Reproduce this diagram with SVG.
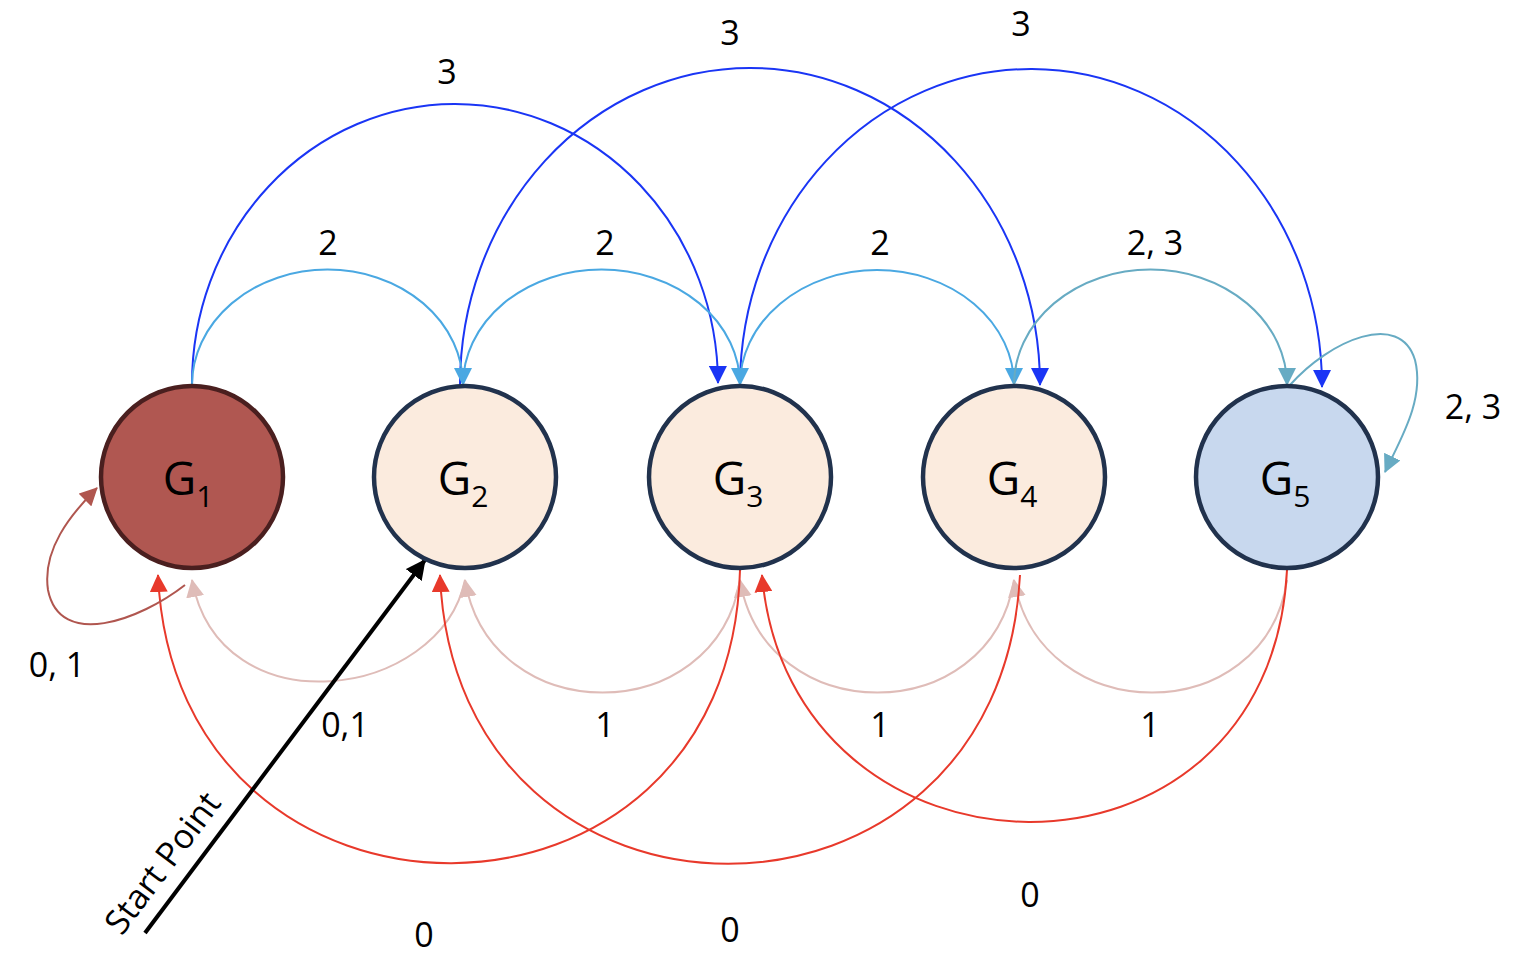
<svg xmlns="http://www.w3.org/2000/svg" width="1530" height="960" viewBox="0 0 1530 960">
<style>
.n{stroke:#21324d;stroke-width:4.5}
.t{font-family:"Open Sans","Liberation Sans",sans-serif;font-size:34px;fill:#000;text-anchor:middle}
.g{font-family:"Open Sans","Liberation Sans",sans-serif;font-size:46px;fill:#000;text-anchor:middle}
.e{fill:none;stroke-width:2}
</style>
<defs>
<marker id="mb" markerUnits="userSpaceOnUse" markerWidth="18" markerHeight="18" viewBox="0 0 18 18" refX="17" refY="9" orient="auto"><path d="M0,0L18,9L0,18z" fill="#1a35f5"/></marker>
<marker id="ml" markerUnits="userSpaceOnUse" markerWidth="18" markerHeight="18" viewBox="0 0 18 18" refX="17" refY="9" orient="auto"><path d="M0,0L18,9L0,18z" fill="#4aa8e2"/></marker>
<marker id="mt" markerUnits="userSpaceOnUse" markerWidth="18" markerHeight="18" viewBox="0 0 18 18" refX="17" refY="9" orient="auto"><path d="M0,0L18,9L0,18z" fill="#67abc3"/></marker>
<marker id="mp" markerUnits="userSpaceOnUse" markerWidth="18" markerHeight="18" viewBox="0 0 18 18" refX="17" refY="9" orient="auto"><path d="M0,0L18,9L0,18z" fill="#dfbcb8"/></marker>
<marker id="mr" markerUnits="userSpaceOnUse" markerWidth="18" markerHeight="18" viewBox="0 0 18 18" refX="17" refY="9" orient="auto"><path d="M0,0L18,9L0,18z" fill="#e8392b"/></marker>
<marker id="mw" markerUnits="userSpaceOnUse" markerWidth="18" markerHeight="18" viewBox="0 0 18 18" refX="17" refY="9" orient="auto"><path d="M0,0L18,9L0,18z" fill="#b0564f"/></marker>
<marker id="mk" markerUnits="userSpaceOnUse" markerWidth="20" markerHeight="20" viewBox="0 0 18 18" refX="17" refY="9" orient="auto"><path d="M0,0L18,9L0,18z" fill="#000"/></marker>
</defs>
<g id="connectors">
<path class="e" stroke="#1a35f5" d="M192,385 A263,280 0 0 1 718,383" marker-end="url(#mb)"/>
<path class="e" stroke="#1a35f5" d="M460,385 A290,317 0 0 1 1040,385" marker-end="url(#mb)"/>
<path class="e" stroke="#1a35f5" d="M740,385 A291,317 0 0 1 1322,387" marker-end="url(#mb)"/>
<path class="e" stroke="#4aa8e2" d="M192,385 A135,115 0 0 1 463,385" marker-end="url(#ml)"/>
<path class="e" stroke="#4aa8e2" d="M463,385 A138,115 0 0 1 740,385" marker-end="url(#ml)"/>
<path class="e" stroke="#4aa8e2" d="M740,385 A137,115 0 0 1 1014,385" marker-end="url(#ml)"/>
<path class="e" stroke="#67abc3" d="M1014,385 A136,115 0 0 1 1287,385" marker-end="url(#mt)"/>
<path class="e" stroke="#67abc3" d="M1290,385 C1330,340 1400,310 1415,360 C1425,400 1400,440 1385,472" marker-end="url(#mt)"/>
<path class="e" stroke="#dfbcb8" d="M465,580 C440,700 220,730 192,580" marker-end="url(#mp)"/>
<path class="e" stroke="#dfbcb8" d="M740,580 C715,730 490,730 465,580" marker-end="url(#mp)"/>
<path class="e" stroke="#dfbcb8" d="M1014,580 C990,730 765,730 740,580" marker-end="url(#mp)"/>
<path class="e" stroke="#dfbcb8" d="M1287,580 C1265,730 1040,730 1014,580" marker-end="url(#mp)"/>
<path class="e" stroke="#e8392b" d="M740,570 C730,960 175,960 158,575" marker-end="url(#mr)"/>
<path class="e" stroke="#e8392b" d="M1020,575 C1000,960 455,960 440,575" marker-end="url(#mr)"/>
<path class="e" stroke="#e8392b" d="M1287,570 C1270,910 790,900 762,575" marker-end="url(#mr)"/>
<path class="e" stroke="#b0564f" d="M185,585 C140,620 60,650 48,590 C42,550 70,515 97,488" marker-end="url(#mw)"/>
<path fill="none" stroke="#000" stroke-width="4" d="M145,933 L425,560" marker-end="url(#mk)"/>
</g>
<g id="G1"><circle class="n" cx="192" cy="477" r="91" fill="#b05751" style="stroke:#4a1f1f"/><text class="g" x="188" y="495">G<tspan font-size="30" dy="12">1</tspan></text></g>
<g id="G2"><circle class="n" cx="465" cy="477" r="91" fill="#fbebde"/><text class="g" x="463" y="495">G<tspan font-size="30" dy="12">2</tspan></text></g>
<g id="G3"><circle class="n" cx="740" cy="477" r="91" fill="#fbebde"/><text class="g" x="738" y="495">G<tspan font-size="30" dy="12">3</tspan></text></g>
<g id="G4"><circle class="n" cx="1014" cy="477" r="91" fill="#fbebde"/><text class="g" x="1012" y="495">G<tspan font-size="30" dy="12">4</tspan></text></g>
<g id="G5"><circle class="n" cx="1287" cy="477" r="91" fill="#c8d8ee"/><text class="g" x="1285" y="495">G<tspan font-size="30" dy="12">5</tspan></text></g>
<g id="labels">
<text class="t" x="447" y="84">3</text>
<text class="t" x="730" y="45">3</text>
<text class="t" x="1021" y="36">3</text>
<text class="t" x="328" y="255">2</text>
<text class="t" x="605" y="255">2</text>
<text class="t" x="880" y="255">2</text>
<text class="t" x="1155" y="255">2, 3</text>
<text class="t" x="1473" y="419">2, 3</text>
<text class="t" x="57" y="677">0, 1</text>
<text class="t" x="345" y="737">0,1</text>
<text class="t" x="605" y="737">1</text>
<text class="t" x="880" y="737">1</text>
<text class="t" x="1150" y="737">1</text>
<text class="t" x="424" y="947">0</text>
<text class="t" x="730" y="942">0</text>
<text class="t" x="1030" y="907">0</text>
<text class="t" transform="translate(172,870) rotate(-53)">Start Point</text>
</g>
</svg>
